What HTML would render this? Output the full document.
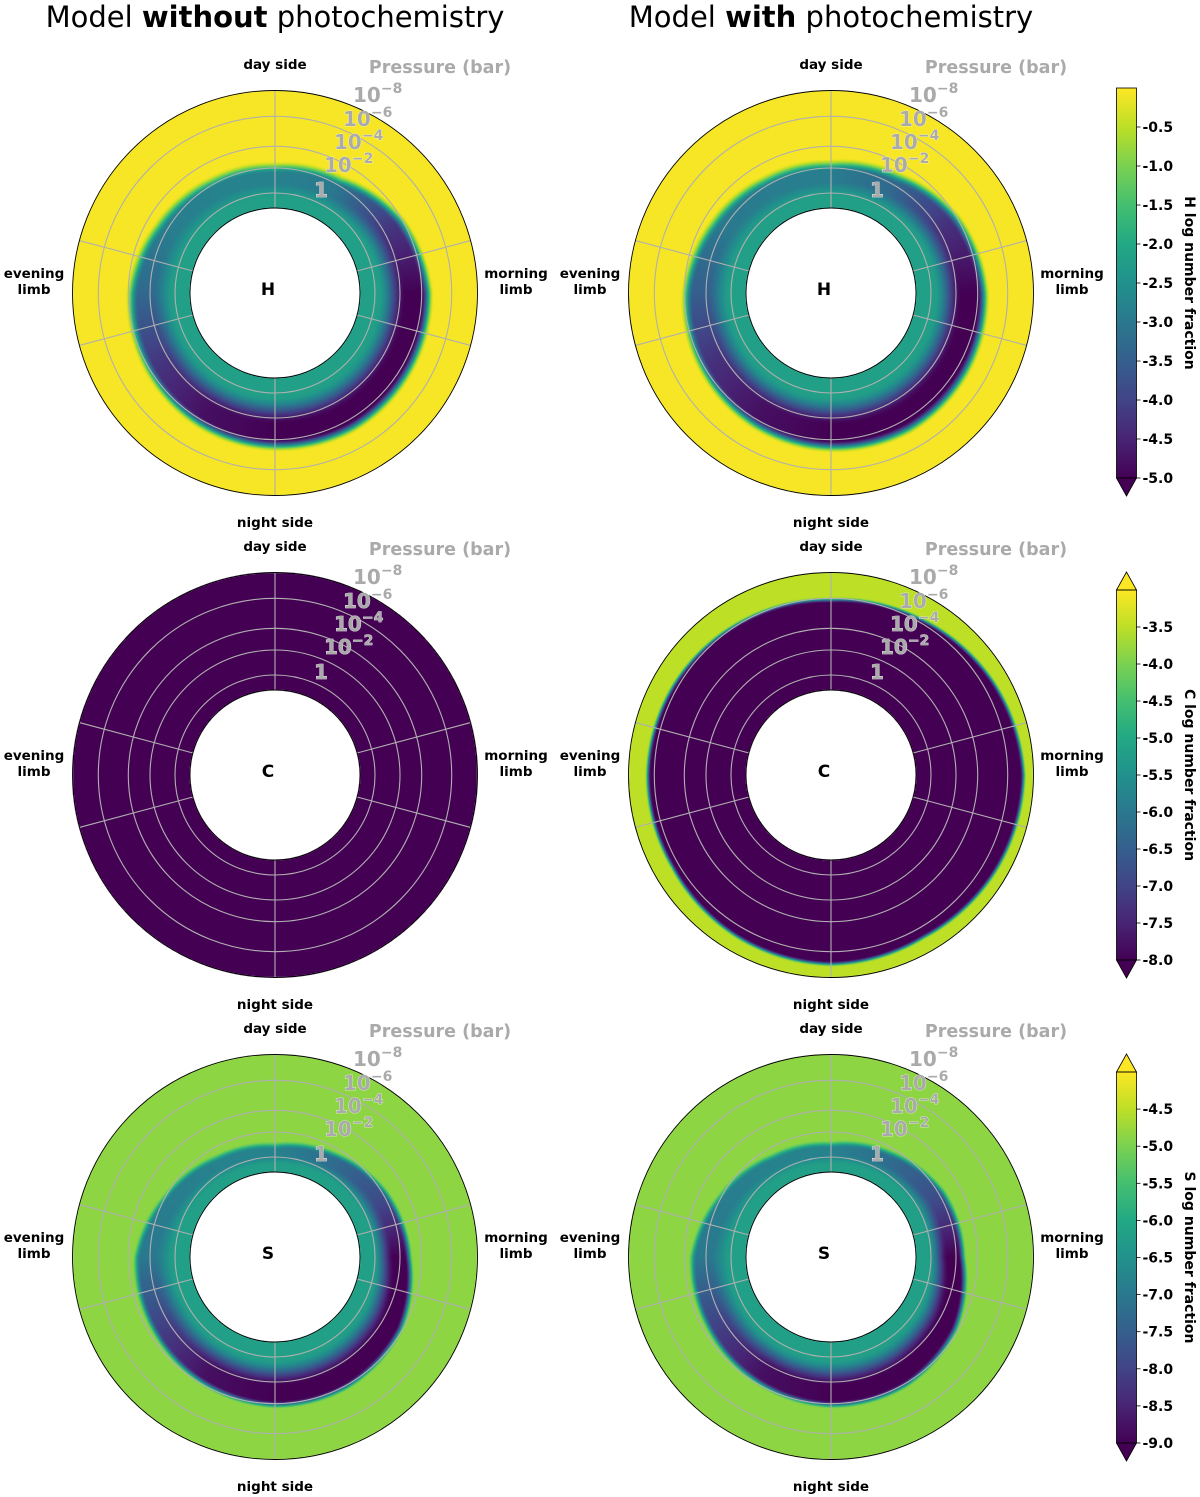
<!DOCTYPE html>
<html><head><meta charset="utf-8">
<style>
html,body{margin:0;padding:0;background:#fff;}
#wrap{position:relative;width:1200px;height:1497px;overflow:hidden;font-family:"DejaVu Sans","Liberation Sans",sans-serif;}
canvas,svg{position:absolute;left:0;top:0;}
</style></head>
<body>
<div id="wrap">
<canvas id="cv" width="1200" height="1497"></canvas>
<svg id="sv" width="1200" height="1497" xmlns="http://www.w3.org/2000/svg"></svg>
</div>
<script>
// ---- data (angles clockwise from day side, degrees) ----
const angleNodes = [0,30,60,90,120,150,180,210,240,270,300,330];
// band outer edge (normalized radius 0=deep,1=top) and band core value per angle
const hNoEdge = [0.29,0.33,0.45,0.52,0.53,0.54,0.52,0.50,0.47,0.44,0.36,0.31];
const hNoCore = [-2.8,-3.0,-4.2,-5.0,-5.0,-5.0,-5.0,-4.8,-4.2,-3.3,-2.9,-2.8];
const hPhEdge = [0.31,0.36,0.46,0.52,0.54,0.55,0.53,0.51,0.48,0.45,0.38,0.33];
const hPhCore = [-2.9,-3.3,-4.3,-5.0,-5.0,-5.0,-5.0,-4.8,-4.3,-3.5,-3.0,-2.9];
const cNoEdge = [1.2,1.2,1.2,1.2,1.2,1.2,1.2,1.2,1.2,1.2,1.2,1.2];
const cNoCore = [-8,-8,-8,-8,-8,-8,-8,-8,-8,-8,-8,-8];
const cPhEdge = [0.74,0.78,0.84,0.89,0.87,0.84,0.86,0.84,0.81,0.81,0.79,0.76];
const cPhCore = [-8,-8,-8,-8,-8,-8,-8,-8,-8,-8,-8,-8];
const sNoEdge = [0.19,0.25,0.33,0.38,0.47,0.50,0.50,0.47,0.44,0.42,0.30,0.22];
const sNoCore = [-6.8,-7.2,-7.8,-9.0,-9.0,-9.0,-9.0,-8.8,-8.0,-7.0,-6.9,-6.8];
const sPhEdge = [0.20,0.26,0.34,0.36,0.46,0.50,0.50,0.47,0.44,0.42,0.31,0.23];
const sPhCore = [-6.8,-7.2,-7.8,-9.0,-9.0,-9.0,-9.0,-8.8,-8.0,-7.0,-6.9,-6.8];
const innerVals = [-2.2,-2.2,-8,-8,-6.2,-6.2];
const bgVals = [-0.05,-0.05,-8,-3.5,-4.85,-4.85];
const edgeWidth = [0.11,0.11,0.05,0.05,0.07,0.07];
const vmin = [-5,-5,-8,-8,-9,-9];
const vmax = [0,0,-3,-3,-4,-4];
const species = ["H","H","C","C","S","S"];
const cbTicksH = [-0.5,-1.0,-1.5,-2.0,-2.5,-3.0,-3.5,-4.0,-4.5,-5.0];
const cbTicksC = [-3.5,-4.0,-4.5,-5.0,-5.5,-6.0,-6.5,-7.0,-7.5,-8.0];
const cbTicksS = [-4.5,-5.0,-5.5,-6.0,-6.5,-7.0,-7.5,-8.0,-8.5,-9.0];
const pressureLabels = [["10","−8"],["10","−6"],["10","−4"],["10","−2"],["1",""]];

const viridis=["#440154","#482475","#414487","#355f8d","#2a788e","#21918c","#22a884","#44bf70","#7ad151","#bddf26","#fde725"].map(h=>[parseInt(h.slice(1,3),16),parseInt(h.slice(3,5),16),parseInt(h.slice(5,7),16)]);
function cmap(t){t=Math.max(0,Math.min(1,t));const f=t*10,i=Math.min(9,Math.floor(f)),u=f-i;const a=viridis[i],b=viridis[i+1];return [a[0]+(b[0]-a[0])*u,a[1]+(b[1]-a[1])*u,a[2]+(b[2]-a[2])*u];}
function angInterp(arr,deg){const s=((deg%360)+360)%360/30;const i=Math.floor(s),u=s-i;return arr[i%12]*(1-u)+arr[(i+1)%12]*u;}
function smooth(a,b,x){let t=(x-a)/(b-a);t=Math.max(0,Math.min(1,t));return t*t*(3-2*t);}

const cols=[275,831], rows=[293,775,1257];
const R0=85, R1=202.5;
const panels=[
 {cx:cols[0],cy:rows[0],edge:hNoEdge,core:hNoCore},
 {cx:cols[1],cy:rows[0],edge:hPhEdge,core:hPhCore},
 {cx:cols[0],cy:rows[1],edge:cNoEdge,core:cNoCore},
 {cx:cols[1],cy:rows[1],edge:cPhEdge,core:cPhCore},
 {cx:cols[0],cy:rows[2],edge:sNoEdge,core:sNoCore},
 {cx:cols[1],cy:rows[2],edge:sPhEdge,core:sPhCore}];

// ---- heatmaps ----
const ctx=document.getElementById('cv').getContext('2d');
const img=ctx.createImageData(1200,1497);
panels.forEach((p,k)=>{
  for(let y=Math.floor(p.cy-R1-1);y<=p.cy+R1+1;y++){
    for(let x=Math.floor(p.cx-R1-1);x<=p.cx+R1+1;x++){
      const dx=x+0.5-p.cx,dy=y+0.5-p.cy,r=Math.hypot(dx,dy);
      if(r<R0||r>R1)continue;
      const rn=(r-R0)/(R1-R0);
      const deg=Math.atan2(dx,-dy)*180/Math.PI;
      const e=angInterp(p.edge,deg),c=angInterp(p.core,deg);
      let v;
      if(rn<e){v=innerVals[k]+(c-innerVals[k])*smooth(0.3*e,0.75*e,rn);}
      else{v=c+(bgVals[k]-c)*smooth(0,edgeWidth[k],rn-e);}
      const col=cmap((v-vmin[k])/(vmax[k]-vmin[k]));
      const o=(y*1200+x)*4;img.data[o]=col[0];img.data[o+1]=col[1];img.data[o+2]=col[2];img.data[o+3]=255;
    }
  }
});
ctx.putImageData(img,0,0);

// ---- overlay ----
const NS="http://www.w3.org/2000/svg";
const sv=document.getElementById('sv');
function mk(tag,attrs,parent){const e=document.createElementNS(NS,tag);for(const a in attrs)e.setAttribute(a,attrs[a]);(parent||sv).appendChild(e);return e;}

// titles
[["without",cols[0]],["with",cols[1]]].forEach(([w,x])=>{
  const t=mk('text',{x:x,y:27,'text-anchor':'middle','font-size':'29','fill':'#000'});
  
  
  const a=mk('tspan',{},t);a.textContent='Model ';
  const b=mk('tspan',{'font-weight':'bold'},t);b.textContent=w;
  const c=mk('tspan',{},t);c.textContent=' photochemistry';
});

panels.forEach((p,k)=>{
  const g=mk('g',{});
  
  
  [100,125,146.7,176.7].forEach(r=>{
    const c=mk('circle',{cx:p.cx,cy:p.cy,r:r,fill:'none',stroke:'#b0b0b0','stroke-width':1.1},g);
    
    
  });
  [0,75,105,180,255,285].forEach(a=>{
    const t=a*Math.PI/180;
    const l=mk('line',{x1:p.cx+R0*Math.sin(t),y1:p.cy-R0*Math.cos(t),x2:p.cx+R1*Math.sin(t),y2:p.cy-R1*Math.cos(t),stroke:'#b0b0b0','stroke-width':1.1},g);
    
    
  });
  const oc=mk('circle',{cx:p.cx,cy:p.cy,r:R1,fill:'none',stroke:'#000','stroke-width':0.9},g);
  
  
  const ic=mk('circle',{cx:p.cx,cy:p.cy,r:R0,fill:'none',stroke:'#000','stroke-width':0.9},g);
  
  
  const sp=mk('text',{x:p.cx-7,y:p.cy+2,'text-anchor':'middle','font-size':'17','font-weight':'bold'},g);
  sp.textContent=species[k];
  
  
  const lab=(txt,x,y,name)=>{const t=mk('text',{x:x,y:y,'text-anchor':'middle','font-size':'13.5','font-weight':'bold'},g);t.textContent=txt;};
  lab('day side',p.cx,p.cy-224,'day-side-label');
  lab('night side',p.cx,p.cy+234,'night-side-label');
  lab('evening',p.cx-241,p.cy-15,'evening-limb-label');
  lab('limb',p.cx-241,p.cy+1,'evening-limb-label');
  lab('morning',p.cx+241,p.cy-15,'morning-limb-label');
  lab('limb',p.cx+241,p.cy+1,'morning-limb-label');
  const pt=mk('text',{x:p.cx+165,y:p.cy-220,'text-anchor':'middle','font-size':'17.5','font-weight':'bold',fill:'#aaaaaa'},g);
  pt.textContent='Pressure (bar)';
  
  
  const pos=[[78,-191],[68,-167],[59,-144],[49,-121],[39,-96]];
  pressureLabels.forEach((pl,i)=>{
    const t=mk('text',{x:p.cx+pos[i][0],y:p.cy+pos[i][1],'font-size':'20','font-weight':'bold',fill:'#aaaaaa',stroke:'#ffffff','stroke-width':'0.6','paint-order':'stroke'},g);
    
    
    const a=mk('tspan',{},t);a.textContent=pl[0];
    if(pl[1]){const b=mk('tspan',{dy:-9,'font-size':'14'},t);b.textContent=pl[1];}
  });
});

// colorbars
const cbs=[
 {top:88,bot:478,ext:[false,true],ticks:cbTicksH,k:0,label:'H log number fraction'},
 {top:590,bot:960,ext:[true,true],ticks:cbTicksC,k:2,label:'C log number fraction'},
 {top:1072,bot:1443,ext:[true,true],ticks:cbTicksS,k:4,label:'S log number fraction'}];
const defs=mk('defs',{});
const grad=mk('linearGradient',{id:'vir',x1:0,y1:1,x2:0,y2:0},defs);
viridis.forEach((c,i)=>mk('stop',{offset:(i/10),'stop-color':`rgb(${c.join(',')})`},grad));
cbs.forEach((cb,j)=>{
  const g=mk('g',{});
  
  
  const x0=1116.5,w=20;
  mk('rect',{x:x0,y:cb.top,width:w,height:cb.bot-cb.top,fill:'url(#vir)'},g);
  if(cb.ext[0])mk('path',{d:`M${x0},${cb.top} L${x0+w/2},${cb.top-18} L${x0+w},${cb.top} Z`,fill:'#fde725',stroke:'#000','stroke-width':0.8},g);
  if(cb.ext[1])mk('path',{d:`M${x0},${cb.bot} L${x0+w/2},${cb.bot+18} L${x0+w},${cb.bot} Z`,fill:'#440154',stroke:'#000','stroke-width':0.8},g);
  mk('rect',{x:x0,y:cb.top,width:w,height:cb.bot-cb.top,fill:'none',stroke:'#000','stroke-width':0.8},g);
  const lo=vmin[cb.k],hi=vmax[cb.k];
  const ys=v=>cb.bot-(v-lo)/(hi-lo)*(cb.bot-cb.top);
  cb.ticks.forEach(v=>{
    const y=ys(v);
    mk('line',{x1:x0+w,y1:y,x2:x0+w+4,y2:y,stroke:'#000','stroke-width':0.8},g);
    const t=mk('text',{x:x0+w+6,y:y+5,'font-size':'14','font-weight':'bold'},g);
    t.textContent=v.toFixed(1);
    
    
  });
  const cy=(cb.top+cb.bot)/2;
  const lt=mk('text',{x:1185,y:cy,'text-anchor':'middle','font-size':'14','font-weight':'bold',transform:`rotate(90 1185 ${cy})`},g);
  lt.textContent=cb.label;
  
  
});
</script>
</body></html>
